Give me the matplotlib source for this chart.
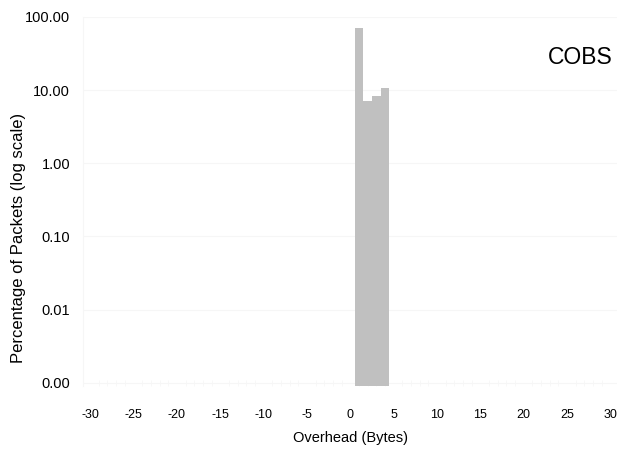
import numpy as np
import matplotlib.pyplot as plt
from matplotlib.ticker import FixedLocator, NullFormatter

plt.rcParams['font.family'] = ['Liberation Sans', 'DejaVu Sans']
plt.rcParams['axes.unicode_minus'] = False

# overhead in bytes and the share of packets with that overhead (%)
overhead = [1, 2, 3, 4]
percent = [70.8, 7.1, 8.4, 10.6]

xticks = list(range(-30, 31, 5))
yticks = [0.001, 0.01, 0.1, 1, 10, 100]
ylabels = ["0.00", "0.01", "0.10", "1.00", "10.00", "100.00"]

fig = plt.figure(figsize=(6.21, 4.55), dpi=100)
ax = fig.add_axes([0.134, 0.152, 0.86, 0.811])

ax.set_yscale('log')
ax.set_ylim(0.00091, 100)
ax.set_xlim(-30.8, 30.8)

ax.bar(overhead, percent, width=1.0, bottom=0.00091, color='#c0c0c0',
       edgecolor='none', zorder=2)

ax.set_xticks(xticks)
ax.set_yticks(yticks)
ax.set_yticklabels(ylabels)
ax.yaxis.set_minor_formatter(NullFormatter())
ax.yaxis.set_minor_locator(FixedLocator([]))
ax.xaxis.set_minor_locator(FixedLocator(np.arange(-30, 31, 1)))

ax.grid(True, axis='y', which='major', color='#f6f6f6', linewidth=0.8, zorder=0)
ax.tick_params(axis='y', length=0, pad=9.5, labelsize=10.5)
ax.tick_params(axis='x', which='major', length=0, pad=17, labelsize=9)
ax.tick_params(axis='x', which='minor', length=4, color='#f7f7f7', direction='in')
for name, s in ax.spines.items():
    if name == 'left':
        s.set_color('#f6f6f6')
    else:
        s.set_visible(False)

ax.set_xlabel("Overhead (Bytes)", fontsize=10.5, labelpad=7)
ax.set_ylabel("Percentage of Packets (log scale)", fontsize=12)
ax.yaxis.set_label_coords(-0.108, 0.40)

ax.text(0.992, 0.89, "COBS", transform=ax.transAxes, ha='right', va='center',
        fontsize=16.5)

fig.savefig("out.png", dpi=100)
